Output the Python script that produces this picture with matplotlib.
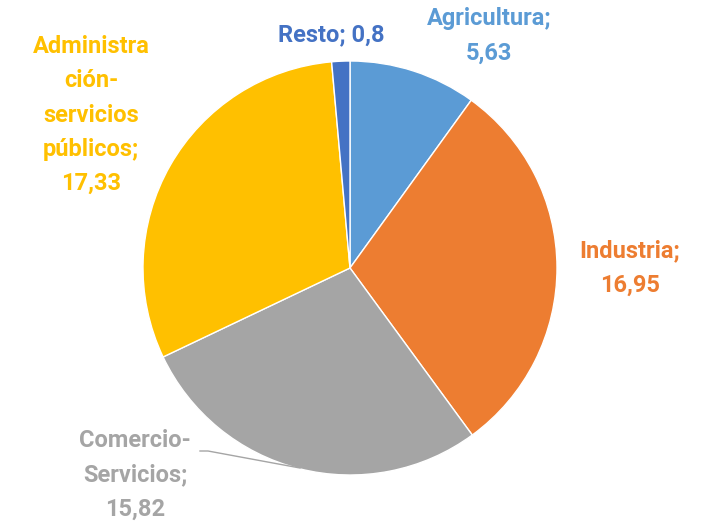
import matplotlib.pyplot as plt

sectores = ["Agricultura", "Industria", "Comercio-\nServicios", "Administra\nción-\nservicios\npúblicos", "Resto"]
valores = [5.63, 16.95, 15.82, 17.33, 0.8]
etiquetas = ["Agricultura;\n5,63", "Industria;\n16,95", "Comercio-\nServicios;\n15,82",
             "Administra\nción-\nservicios\npúblicos;\n17,33", "Resto; 0,8"]
colores = ["#5B9BD5", "#ED7D31", "#A5A5A5", "#FFC000", "#4472C4"]

W, H = 713, 522
fig = plt.figure(figsize=(W / 100, H / 100), dpi=100)
ax = fig.add_axes([0, 0, 1, 1])

cx, cy, r = 350, H - 268, 207
ax.pie(valores, colors=colores, startangle=90, counterclock=False,
       center=(cx, cy), radius=r, frame=True,
       wedgeprops=dict(edgecolor="white", linewidth=1))
ax.set_xlim(0, W)
ax.set_ylim(0, H)
ax.set_aspect("equal")
ax.axis("off")

# label positions in pixel coords (x, y from top)
pos = [(489, 36), (630, 268), (135, 475), (91, 115), (331, 35)]
for lab, col, (x, y) in zip(etiquetas, colores, pos):
    ax.text(x, H - y, lab, color=col, fontsize=17, fontweight="bold",
            family="Roboto", ha="center", va="center", linespacing=1.62)

# leader line for Comercio
ax.plot([200, 208, 300], [H - 451, H - 451, H - 468], color="#A5A5A5", lw=1)

fig.savefig("out.png", dpi=100)
